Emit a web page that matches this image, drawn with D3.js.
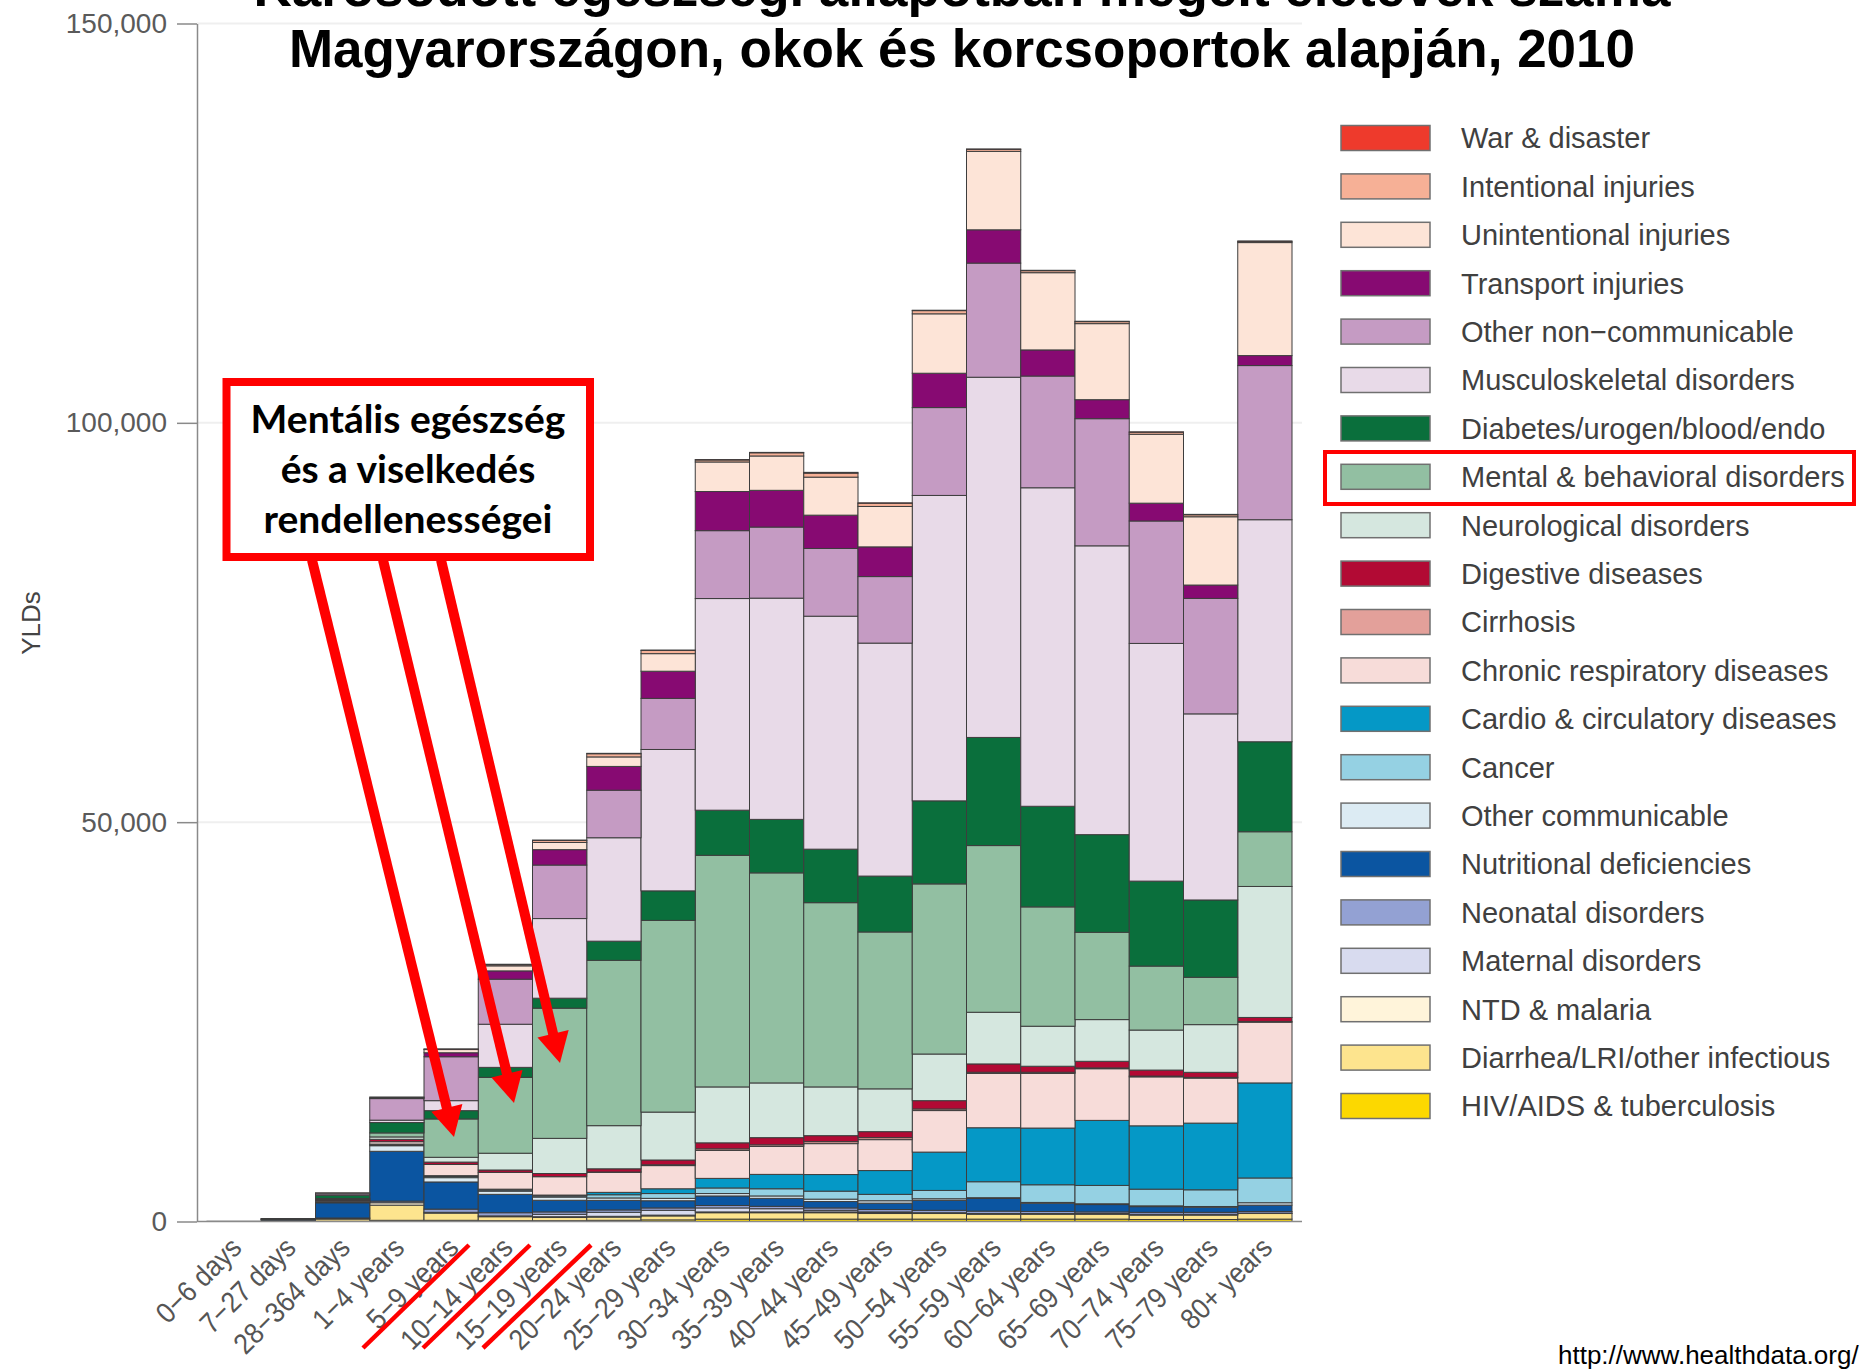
<!DOCTYPE html>
<html>
<head>
<meta charset="utf-8">
<script src="https://cdn.jsdelivr.net/npm/d3@7"></script>
<style>
  body { margin: 0; background: #fff; }
  svg { display: block; }
</style>
</head>
<body>
<div id="chart"></div>
<script>
// age groups (x axis)
var ages = ["0\u22126 days", "7\u221227 days", "28\u2212364 days", "1\u22124 years", "5\u22129 years",
  "10\u221214 years", "15\u221219 years", "20\u221224 years", "25\u221229 years", "30\u221234 years",
  "35\u221239 years", "40\u221244 years", "45\u221249 years", "50\u221254 years", "55\u221259 years",
  "60\u221264 years", "65\u221269 years", "70\u221274 years", "75\u221279 years", "80+ years"];

// causes, legend order (top of stack first)
var causes = ["War & disaster", "Intentional injuries", "Unintentional injuries", "Transport injuries",
  "Other non\u2212communicable", "Musculoskeletal disorders", "Diabetes/urogen/blood/endo",
  "Mental & behavioral disorders", "Neurological disorders", "Digestive diseases", "Cirrhosis",
  "Chronic respiratory diseases", "Cardio & circulatory diseases", "Cancer", "Other communicable",
  "Nutritional deficiencies", "Neonatal disorders", "Maternal disorders", "NTD & malaria",
  "Diarrhea/LRI/other infectious", "HIV/AIDS & tuberculosis"];

var causeColors = ["#ee3a2c", "#f6b096", "#fde4d7", "#870a72", "#c59bc3", "#e8dae8", "#0a6f3c",
  "#92bfa2", "#d5e7df", "#b20a34", "#e3a09a", "#f7dcd9", "#0598c6", "#95d1e3", "#dcebf3",
  "#0b55a1", "#93a1d3", "#d8dbef", "#fff4da", "#fde48e", "#fcd800"];

// YLDs by cause, one value per age group
var warDisaster   = [0, 0, 0, 0, 20, 50, 50, 50, 50, 50, 50, 100, 50, 50, 50, 50, 50, 50, 50, 50];
var intentional   = [0, 0, 0, 0, 50, 150, 250, 400, 400, 250, 400, 500, 400, 400, 250, 250, 250, 250, 250, 150];
var unintentional = [0, 0, 50, 100, 400, 630, 900, 1190, 2200, 3700, 4300, 4760, 5060, 7440, 9820, 9670, 9520, 8630, 8550, 14150];
var transport     = [0, 0, 0, 100, 500, 1040, 1930, 2980, 3400, 4900, 4600, 4170, 3720, 4300, 4170, 3270, 2380, 2230, 1670, 1250];
var otherNcd      = [0, 10, 200, 2700, 5500, 5640, 6700, 5950, 6400, 8500, 8900, 8480, 8330, 11000, 14290, 13990, 15920, 15330, 14460, 19300];
var musculo       = [0, 0, 50, 300, 1250, 5400, 9970, 12950, 17700, 26500, 27700, 29170, 29170, 38240, 45100, 39880, 36160, 29760, 23300, 27800];
var diabetes      = [0, 40, 400, 1300, 1040, 1250, 1250, 2400, 3700, 5650, 6700, 6700, 7000, 10400, 13540, 12600, 12230, 10640, 9680, 11270];
var mental        = [0, 10, 50, 500, 4800, 9500, 16300, 20700, 24000, 29000, 26300, 23070, 19640, 21300, 20870, 14940, 10930, 8010, 5930, 6850];
var neuro         = [0, 10, 100, 300, 600, 2100, 4400, 5400, 6000, 7000, 6850, 6100, 5360, 5840, 6470, 5010, 5220, 5010, 5970, 16400];
var digestive     = [0, 10, 100, 300, 300, 300, 400, 400, 600, 750, 900, 750, 750, 1040, 1040, 750, 830, 750, 630, 500];
var cirrhosis     = [0, 0, 0, 0, 0, 0, 0, 50, 100, 200, 200, 250, 250, 200, 150, 150, 100, 100, 100, 100];
var chronicResp   = [0, 0, 100, 300, 1400, 2100, 2300, 2500, 2900, 3500, 3500, 3870, 3870, 5200, 6800, 6840, 6470, 6130, 5630, 7600];
var cardio        = [0, 0, 50, 100, 100, 100, 100, 300, 600, 1200, 1800, 2080, 2980, 4800, 6760, 7100, 8140, 7930, 8350, 11900];
var cancer        = [0, 0, 50, 100, 150, 150, 150, 400, 600, 700, 900, 1000, 800, 1040, 2000, 2210, 2300, 2090, 2090, 3100];
var otherComm     = [0, 20, 100, 700, 540, 400, 400, 300, 300, 300, 300, 300, 300, 200, 100, 100, 100, 100, 100, 300];
var nutritional   = [0, 100, 1900, 6240, 3400, 2300, 1460, 1200, 900, 1200, 1000, 800, 800, 1250, 1580, 1040, 920, 710, 630, 800];
var neonatal      = [30, 100, 100, 200, 400, 400, 300, 300, 300, 300, 300, 300, 300, 300, 300, 250, 200, 250, 250, 200];
var maternal      = [0, 0, 0, 0, 0, 0, 300, 500, 600, 500, 400, 200, 100, 0, 0, 0, 0, 0, 0, 0];
var ntdMalaria    = [0, 0, 20, 300, 100, 100, 100, 100, 100, 100, 100, 100, 100, 100, 100, 100, 100, 100, 100, 50];
var diarrhea      = [0, 60, 300, 1900, 900, 500, 400, 400, 500, 800, 800, 800, 700, 700, 600, 600, 600, 550, 550, 700];
var hivTb         = [0, 0, 20, 150, 150, 100, 100, 150, 200, 300, 300, 300, 300, 300, 300, 300, 300, 250, 250, 300];

var seriesByCause = [warDisaster, intentional, unintentional, transport, otherNcd, musculo, diabetes,
  mental, neuro, digestive, cirrhosis, chronicResp, cardio, cancer, otherComm, nutritional,
  neonatal, maternal, ntdMalaria, diarrhea, hivTb];

var yTicks = [0, 50000, 100000, 150000];

var titleLines = ["K\u00e1rosodott eg\u00e9szs\u00e9gi \u00e1llapotban meg\u00e9lt \u00e9let\u00e9vek sz\u00e1ma",
  "Magyarorsz\u00e1gon, okok \u00e9s korcsoportok alapj\u00e1n, 2010"];
var noteLines = ["Ment\u00e1lis eg\u00e9szs\u00e9g", "\u00e9s a viselked\u00e9s", "rendelleness\u00e9gei"];

// ---- build table for d3.stack
var rows = ages.map(function(age, i) {
  var row = { age: age };
  causes.forEach(function(c, k) { row[c] = seriesByCause[k][i]; });
  return row;
});
var colorOf = {};
causes.forEach(function(c, k) { colorOf[c] = causeColors[k]; });

var W = 1861, H = 1370;
var AXIS_X = 197, BASE_Y = 1221.5, TOP_Y = 23.5;
var AXIS_COLOR = "#8a8a8a";

var svg = d3.select("#chart").append("svg")
  .attr("width", W)
  .attr("height", H)
  .style("font-family", "'Liberation Sans', Arial, sans-serif");

var x = d3.scaleBand().domain(ages).range([207, 1292]).padding(0);
var y = d3.scaleLinear().domain([0, 150000]).range([BASE_Y, TOP_Y]);

// faint grid
svg.append("g").selectAll("line").data(yTicks.slice(1)).enter().append("line")
  .attr("x1", AXIS_X).attr("x2", 1302)
  .attr("y1", function(d) { return y(d); })
  .attr("y2", function(d) { return y(d); })
  .style("stroke", "#efefef")
  .style("stroke-width", 2);

// stacked bars
var stackKeys = causes.slice().reverse();
var layers = d3.stack().keys(stackKeys)(rows);

svg.append("g").selectAll("g").data(layers).enter().append("g")
  .attr("fill", function(d) { return colorOf[d.key]; })
  .selectAll("rect")
  .data(function(d) { return d.filter(function(p) { return p[1] - p[0] > 0; }); })
  .enter().append("rect")
  .attr("x", function(d) { return x(d.data.age); })
  .attr("y", function(d) { return y(d[1]); })
  .attr("width", x.bandwidth())
  .attr("height", function(d) { return y(d[0]) - y(d[1]); })
  .style("stroke", "#3d3d3d")
  .style("stroke-width", 1);

// y axis
var yAxis = d3.axisLeft(y)
  .tickValues(yTicks)
  .tickFormat(d3.format(","))
  .tickSize(20)
  .tickSizeOuter(0)
  .tickPadding(10);

var yg = svg.append("g")
  .attr("transform", "translate(" + AXIS_X + ",0)")
  .call(yAxis);
yg.select(".domain").style("stroke", AXIS_COLOR).style("stroke-width", 1.5);
yg.selectAll(".tick line").style("stroke", AXIS_COLOR).style("stroke-width", 1.5);
yg.selectAll(".tick text")
  .style("font-family", "'Liberation Sans', Arial, sans-serif")
  .style("font-size", "28px")
  .style("fill", "#5a5a5a");

svg.append("text")
  .attr("transform", "translate(40,623) rotate(-90)")
  .attr("text-anchor", "middle")
  .style("font-size", "26px")
  .style("fill", "#444")
  .text("YLDs");

// x axis
svg.append("line")
  .attr("x1", AXIS_X).attr("x2", 1302)
  .attr("y1", BASE_Y).attr("y2", BASE_Y)
  .style("stroke", AXIS_COLOR)
  .style("stroke-width", 1.5);

var xAxis = d3.axisBottom(x).tickSize(0).tickSizeOuter(0);
var xg = svg.append("g")
  .attr("transform", "translate(0," + BASE_Y + ")")
  .call(xAxis);
xg.select(".domain").remove();
// labels are a bit narrow in the original, squeeze along the text direction
xg.selectAll(".tick text")
  .attr("x", 0).attr("y", 0).attr("dy", 0)
  .attr("text-anchor", "end")
  .attr("transform", "translate(9,28) rotate(-45) scale(0.9,1)")
  .style("font-family", "'Liberation Sans', Arial, sans-serif")
  .style("font-size", "29px")
  .style("fill", "#555");

// title
svg.append("g").selectAll("text").data(titleLines).enter().append("text")
  .attr("x", 962)
  .attr("y", function(d, i) { return 6 + i * 61; })
  .attr("text-anchor", "middle")
  .style("font-size", "53px")
  .style("font-weight", "bold")
  .style("fill", "#000")
  .text(function(d) { return d; });

// legend
var LEG_Y0 = 138, LEG_STEP = 48.4;
var legend = svg.append("g").selectAll("g").data(causes).enter().append("g")
  .attr("transform", function(d, i) { return "translate(0," + (LEG_Y0 + i * LEG_STEP) + ")"; });

legend.append("rect")
  .attr("x", 1341).attr("y", -12.5)
  .attr("width", 89).attr("height", 25)
  .attr("fill", function(d) { return colorOf[d]; })
  .style("stroke", "#707070")
  .style("stroke-width", 1.5);

legend.append("text")
  .attr("x", 1461).attr("y", 0).attr("dy", "0.36em")
  .style("font-size", "29px")
  .style("fill", "#404040")
  .text(function(d) { return d; });

// red highlight around mental legend item
svg.append("rect")
  .attr("x", 1325).attr("y", 452)
  .attr("width", 529).attr("height", 52)
  .attr("fill", "none")
  .style("stroke", "#ff0000")
  .style("stroke-width", 4);

// annotation arrows
var RED = "#ff0000";
var arrows = [
  { from: [312, 560], to: [454, 1137] },
  { from: [383, 560], to: [514, 1103] },
  { from: [441, 560], to: [560, 1063] }
];
var HEAD_LEN = 30, HEAD_W = 32;

arrows.forEach(function(a) {
  var dx = a.to[0] - a.from[0], dy = a.to[1] - a.from[1];
  var len = Math.sqrt(dx * dx + dy * dy);
  var ux = dx / len, uy = dy / len;
  var bx = a.to[0] - ux * HEAD_LEN, by = a.to[1] - uy * HEAD_LEN;

  svg.append("line")
    .attr("x1", a.from[0]).attr("y1", a.from[1])
    .attr("x2", bx + ux * 4).attr("y2", by + uy * 4)
    .style("stroke", RED)
    .style("stroke-width", 10);

  svg.append("path")
    .attr("d", "M" + a.to[0] + "," + a.to[1] +
      "L" + (bx - uy * HEAD_W / 2) + "," + (by + ux * HEAD_W / 2) +
      "L" + (bx + uy * HEAD_W / 2) + "," + (by - ux * HEAD_W / 2) + "Z")
    .attr("fill", RED);
});

// annotation box
svg.append("rect")
  .attr("x", 226.5).attr("y", 382)
  .attr("width", 363.5).attr("height", 175)
  .attr("fill", "#fff")
  .style("stroke", RED)
  .style("stroke-width", 8);

svg.append("g").selectAll("text").data(noteLines).enter().append("text")
  .attr("x", 408)
  .attr("y", function(d, i) { return 433 + i * 50; })
  .attr("text-anchor", "middle")
  .style("font-family", "Lato, 'Open Sans', sans-serif")
  .style("font-weight", "bold")
  .style("font-size", "39px")
  .style("fill", "#000")
  .text(function(d) { return d; });

// red strike lines over the x labels
var strikes = [[363, 1348, 469, 1245], [423, 1348, 530, 1245], [483, 1348, 591, 1245]];
svg.append("g").selectAll("line").data(strikes).enter().append("line")
  .attr("x1", function(d) { return d[0]; })
  .attr("y1", function(d) { return d[1]; })
  .attr("x2", function(d) { return d[2]; })
  .attr("y2", function(d) { return d[3]; })
  .style("stroke", RED)
  .style("stroke-width", 4.5);

// source
svg.append("text")
  .attr("x", 1558).attr("y", 1364)
  .style("font-size", "26px")
  .style("fill", "#000")
  .text("http://www.healthdata.org/");
</script>
</body>
</html>
